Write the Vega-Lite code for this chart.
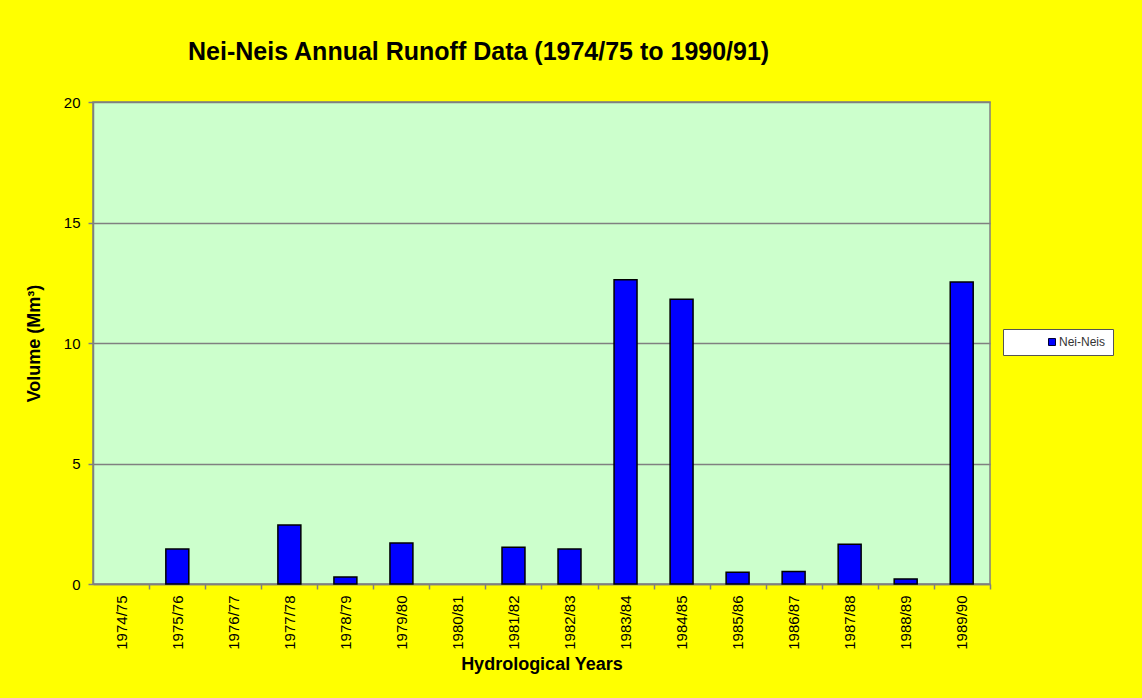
{
  "$schema": "https://vega.github.io/schema/vega-lite/v6.json",
  "autosize": {"type": "none"},
  "width": 897,
  "height": 482,
  "padding": {"left": 93, "top": 102, "right": 152, "bottom": 114},
  "background": "#FFFF00",
  "title": {
    "text": "Nei-Neis Annual Runoff Data (1974/75 to 1990/91)",
    "anchor": "start",
    "frame": "group",
    "dx": 95,
    "offset": 10,
    "baseline": "alphabetic",
    "font": "Liberation Sans",
    "fontSize": 25,
    "fontWeight": "bold",
    "color": "#000000"
  },
  "data": {
    "values": [
      {"year": "1974/75", "series": "Nei-Neis", "volume": null},
      {"year": "1975/76", "series": "Nei-Neis", "volume": 1.45},
      {"year": "1976/77", "series": "Nei-Neis", "volume": null},
      {"year": "1977/78", "series": "Nei-Neis", "volume": 2.45},
      {"year": "1978/79", "series": "Nei-Neis", "volume": 0.29},
      {"year": "1979/80", "series": "Nei-Neis", "volume": 1.7},
      {"year": "1980/81", "series": "Nei-Neis", "volume": null},
      {"year": "1981/82", "series": "Nei-Neis", "volume": 1.53},
      {"year": "1982/83", "series": "Nei-Neis", "volume": 1.45},
      {"year": "1983/84", "series": "Nei-Neis", "volume": 12.62},
      {"year": "1984/85", "series": "Nei-Neis", "volume": 11.82},
      {"year": "1985/86", "series": "Nei-Neis", "volume": 0.49},
      {"year": "1986/87", "series": "Nei-Neis", "volume": 0.52},
      {"year": "1987/88", "series": "Nei-Neis", "volume": 1.65},
      {"year": "1988/89", "series": "Nei-Neis", "volume": 0.21},
      {"year": "1989/90", "series": "Nei-Neis", "volume": 12.53}
    ]
  },
  "mark": {"type": "bar", "stroke": "#000000", "strokeWidth": 1.5},
  "encoding": {
    "x": {
      "field": "year",
      "type": "nominal",
      "sort": null,
      "scale": {
        "domain": ["1974/75", "1975/76", "1976/77", "1977/78", "1978/79", "1979/80", "1980/81", "1981/82", "1982/83", "1983/84", "1984/85", "1985/86", "1986/87", "1987/88", "1988/89", "1989/90"],
        "paddingInner": 0.59,
        "paddingOuter": 0.3
      },
      "axis": {
        "title": "Hydrological Years",
        "titleFont": "Liberation Sans",
        "titleFontSize": 18,
        "titleFontWeight": "bold",
        "titleColor": "#000000",
        "titlePadding": 6,
        "labelAngle": -90,
        "labelFont": "Liberation Sans",
        "labelFontSize": 15,
        "labelColor": "#000000",
        "labelPadding": 6,
        "tickOffset": 28,
        "labelOffset": -28,
        "tickSize": 5,
        "tickColor": "#808080",
        "tickWidth": 1.5,
        "domainColor": "#808080",
        "domainWidth": 1.5,
        "grid": false
      }
    },
    "y": {
      "field": "volume",
      "type": "quantitative",
      "scale": {"domain": [0, 20], "nice": false},
      "axis": {
        "title": "Volume (Mm³)",
        "titleFont": "Liberation Sans",
        "titleFontSize": 18,
        "titleFontWeight": "bold",
        "titleColor": "#000000",
        "titlePadding": 20,
        "values": [0, 5, 10, 15, 20],
        "labelFont": "Liberation Sans",
        "labelFontSize": 15,
        "labelColor": "#000000",
        "labelPadding": 8,
        "tickSize": 5,
        "tickColor": "#808080",
        "tickWidth": 1.5,
        "domainColor": "#808080",
        "domainWidth": 1.5,
        "grid": true,
        "gridColor": "#808080",
        "gridWidth": 1.5
      }
    },
    "color": {
      "field": "series",
      "type": "nominal",
      "scale": {"range": ["#0000FF"]},
      "legend": {
        "title": null,
        "orient": "none",
        "legendX": 910,
        "legendY": 227,
        "padding": 7,
        "fillColor": "#FFFFFF",
        "strokeColor": "#555555",
        "symbolType": "square",
        "symbolSize": 49,
        "symbolStrokeColor": "#000033",
        "symbolStrokeWidth": 1,
        "symbolOffset": 36,
        "labelOffset": 1,
        "labelFont": "Liberation Sans",
        "labelFontSize": 12,
        "labelColor": "#333333"
      }
    }
  },
  "config": {
    "view": {"fill": "#CCFFCC", "stroke": "#808080", "strokeWidth": 1.5}
  }
}
